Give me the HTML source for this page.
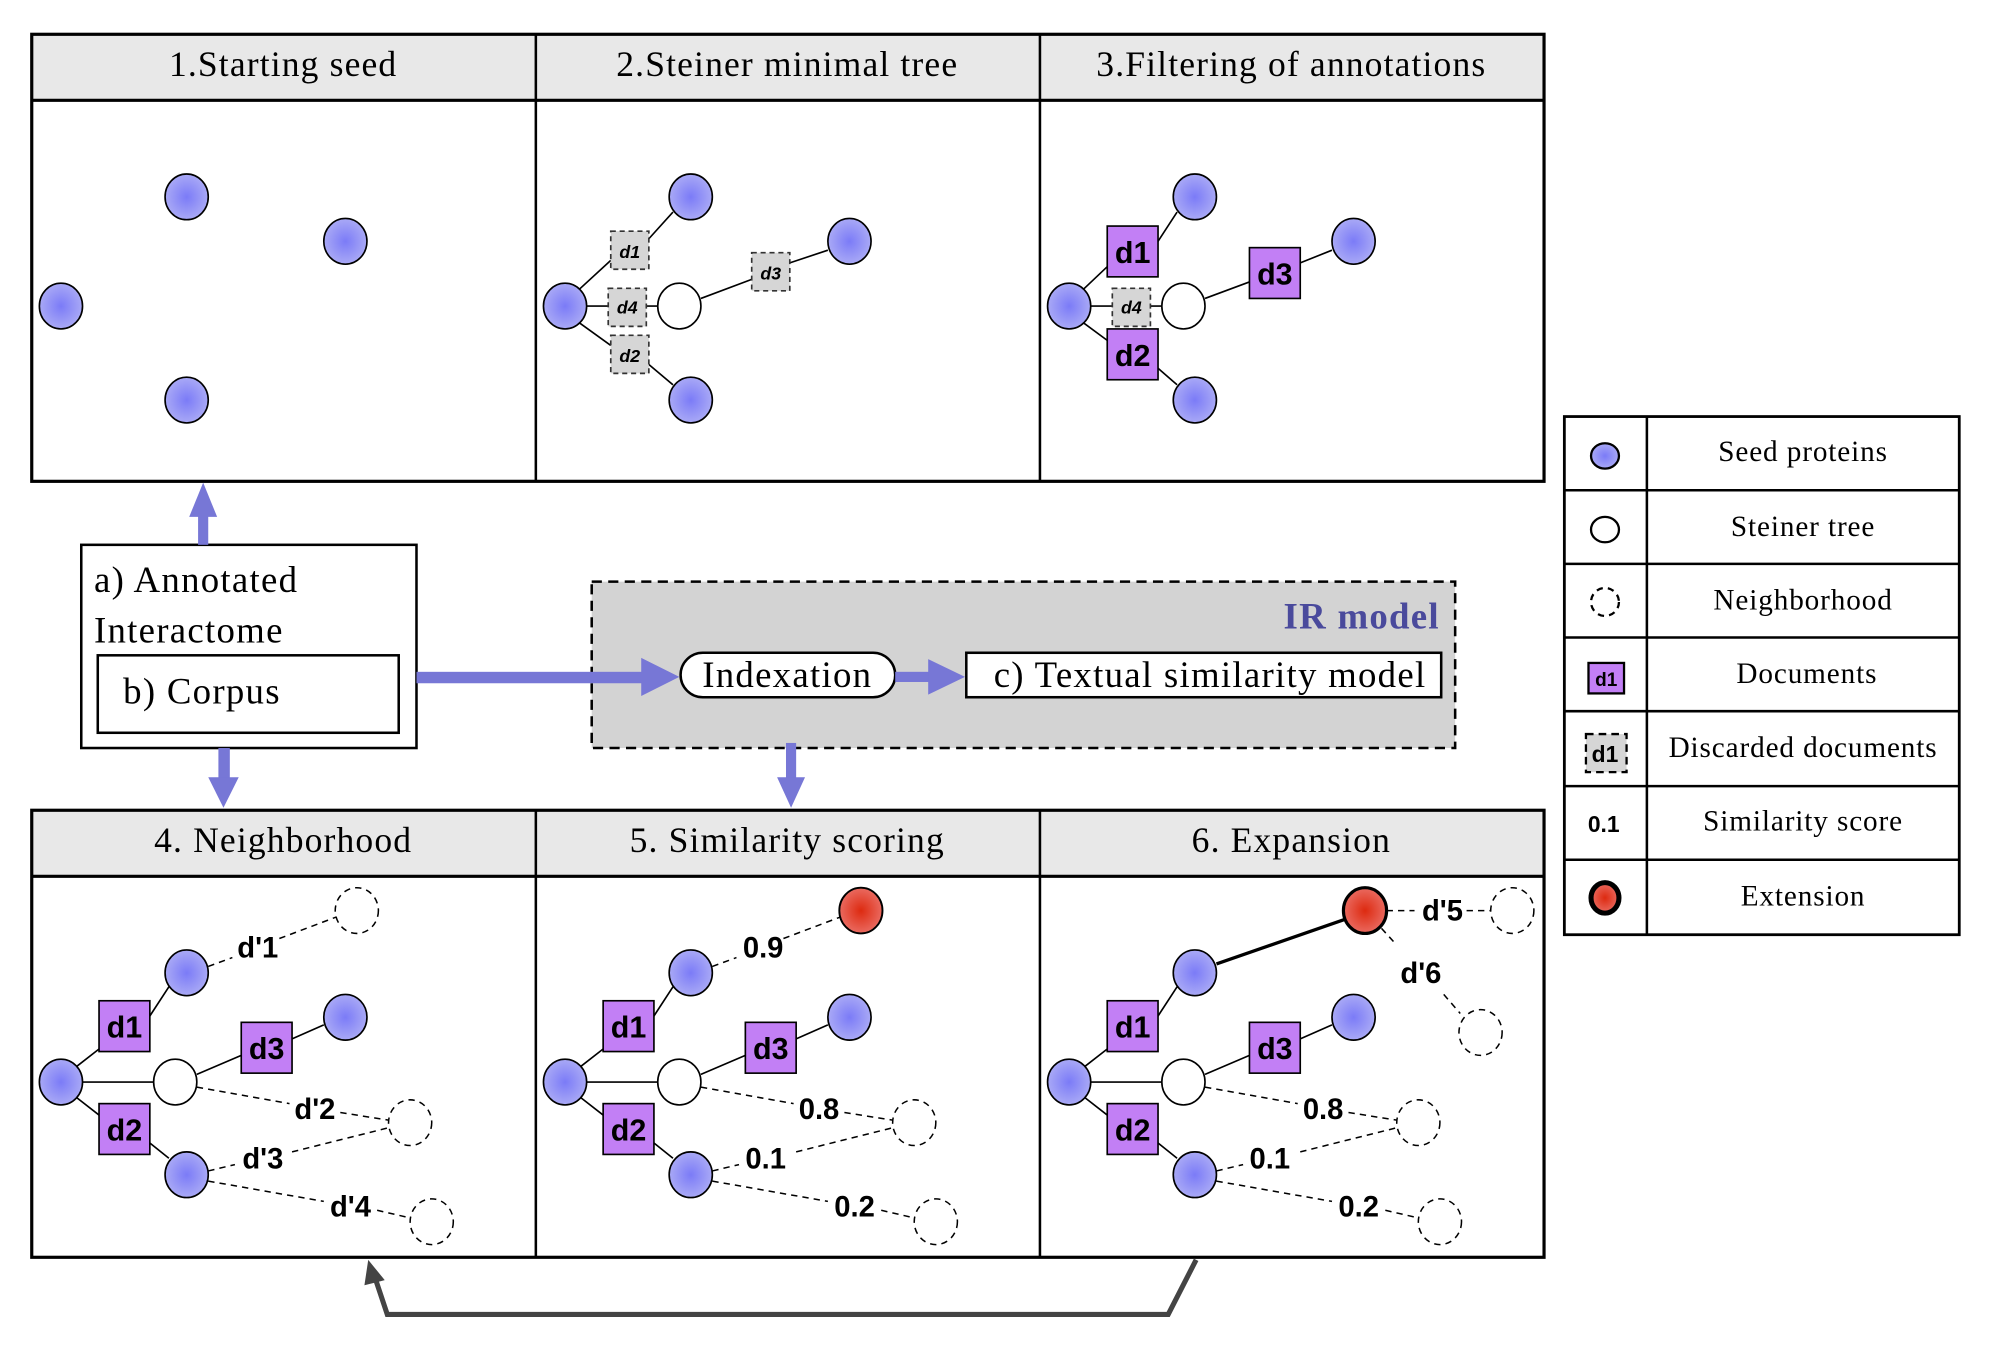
<!DOCTYPE html>
<html><head><meta charset="utf-8"><style>
html,body{margin:0;padding:0;background:#fff;}
svg{display:block;}
.h{font-family:"Liberation Serif",serif;font-size:28px;letter-spacing:0.9px;text-anchor:middle;fill:#000;}
.m{font-family:"Liberation Serif",serif;font-size:29px;letter-spacing:1px;fill:#000;}
.lg{font-family:"Liberation Serif",serif;font-size:23px;letter-spacing:0.7px;text-anchor:middle;fill:#000;}
.b{font-family:"Liberation Sans",sans-serif;font-weight:bold;font-size:23px;text-anchor:middle;fill:#000;}
.di{font-family:"Liberation Sans",sans-serif;font-weight:bold;font-style:italic;font-size:14px;text-anchor:middle;fill:#000;}
.dp{font-family:"Liberation Sans",sans-serif;font-weight:bold;font-size:24px;text-anchor:middle;fill:#000;}
.s{stroke:#000;stroke-width:1.3;fill:none;}
.d{stroke:#000;stroke-width:1.2;fill:none;stroke-dasharray:5 4;}
.bl{fill:url(#gb);stroke:#000;stroke-width:1.3;}
.wh{fill:#fff;stroke:#000;stroke-width:1.3;}
.nb{fill:none;stroke:#000;stroke-width:1.2;stroke-dasharray:5 4;}
.pu{fill:#c27ff5;stroke:#000;stroke-width:1.3;}
.gr{fill:#d6d6d6;stroke:#333;stroke-width:1.3;stroke-dasharray:4 3;}
</style></head><body>
<svg width="1991" height="1350" viewBox="0 0 1568 1063" preserveAspectRatio="none" xmlns="http://www.w3.org/2000/svg">
<defs>
<radialGradient id="gb"><stop offset="0" stop-color="#7b7bf7"/><stop offset="1" stop-color="#a9a9f6"/></radialGradient>
<radialGradient id="gr"><stop offset="0" stop-color="#dd2a10"/><stop offset="1" stop-color="#ea6a60"/></radialGradient>
</defs>
<!-- top panels -->
<rect x="25" y="27" width="1191" height="52" fill="#e8e8e8"/>
<rect x="25" y="27" width="1191" height="352" fill="none" stroke="#000" stroke-width="2.5"/>
<line x1="25" y1="79" x2="1216" y2="79" stroke="#000" stroke-width="2.5"/>
<line x1="422" y1="27" x2="422" y2="379" stroke="#000" stroke-width="2"/>
<line x1="819" y1="27" x2="819" y2="379" stroke="#000" stroke-width="2"/>
<text class="h" x="223" y="60">1.Starting seed</text>
<text class="h" x="620" y="60">2.Steiner minimal tree</text>
<text class="h" x="1017" y="60">3.Filtering of annotations</text>
<!-- panel 1 -->
<ellipse class="bl" cx="147" cy="155" rx="17" ry="18"/>
<ellipse class="bl" cx="272" cy="190" rx="17" ry="18"/>
<ellipse class="bl" cx="48" cy="241" rx="17" ry="18"/>
<ellipse class="bl" cx="147" cy="315" rx="17" ry="18"/>
<!-- panel 2 -->
<path class="s" d="M456 228L481 205M511 188L530 167M462 241H479M509 241H518M456 254L481 272M511 287L530 303M552 235L592 220M622 207L652 197"/>
<ellipse class="bl" cx="544" cy="155" rx="17" ry="18"/>
<ellipse class="bl" cx="669" cy="190" rx="17" ry="18"/>
<ellipse class="bl" cx="445" cy="241" rx="17" ry="18"/>
<ellipse class="bl" cx="544" cy="315" rx="17" ry="18"/>
<ellipse class="wh" cx="535" cy="241" rx="17" ry="18"/>
<rect class="gr" x="481" y="182" width="30" height="30"/><text class="di" x="496" y="203">d1</text>
<rect class="gr" x="479" y="227" width="30" height="30"/><text class="di" x="494" y="247">d4</text>
<rect class="gr" x="481" y="264" width="30" height="30"/><text class="di" x="496" y="285">d2</text>
<rect class="gr" x="592" y="199" width="30" height="30"/><text class="di" x="607" y="220">d3</text>
<!-- panel 3 -->
<path class="s" d="M853 228L872 210M912 190L927 167M859 241H876M906 241H915M853 254L872 268M912 290L927 303M949 235L984 222M1024 207L1049 197"/>
<ellipse class="bl" cx="941" cy="155" rx="17" ry="18"/>
<ellipse class="bl" cx="1066" cy="190" rx="17" ry="18"/>
<ellipse class="bl" cx="842" cy="241" rx="17" ry="18"/>
<ellipse class="bl" cx="941" cy="315" rx="17" ry="18"/>
<ellipse class="wh" cx="932" cy="241" rx="17" ry="18"/>
<rect class="gr" x="876" y="227" width="30" height="30"/><text class="di" x="891" y="247">d4</text>
<rect class="pu" x="872" y="178" width="40" height="40"/><text class="dp" x="892" y="207">d1</text>
<rect class="pu" x="872" y="259" width="40" height="40"/><text class="dp" x="892" y="288">d2</text>
<rect class="pu" x="984" y="195" width="40" height="40"/><text class="dp" x="1004" y="224">d3</text>
<!-- middle -->
<rect x="64" y="429" width="264" height="160" fill="#fff" stroke="#000" stroke-width="2"/>
<text class="m" x="74" y="466">a) Annotated</text>
<text class="m" x="74" y="506">Interactome</text>
<rect x="77" y="516" width="237" height="61" fill="#fff" stroke="#000" stroke-width="2"/>
<text class="m" x="97" y="554">b) Corpus</text>
<rect x="466" y="458" width="680" height="131" fill="#d3d3d3" stroke="#000" stroke-width="2" stroke-dasharray="8 5"/>
<text x="1134" y="495" style="font-family:'Liberation Serif',serif;font-weight:bold;font-size:29px;letter-spacing:1px;fill:#4a4a9c;text-anchor:end">IR model</text>
<rect x="536" y="514" width="169" height="35" rx="17.5" fill="#fff" stroke="#000" stroke-width="2"/>
<text class="m" x="620" y="541" style="text-anchor:middle">Indexation</text>
<rect x="761" y="514" width="374" height="35" fill="#fff" stroke="#000" stroke-width="2"/>
<text class="m" x="953" y="541" style="text-anchor:middle">c) Textual similarity model</text>
<!-- blue arrows -->
<g fill="#7777d6">
<rect x="156" y="405" width="8" height="24"/><polygon points="160,380 149,407 171,407"/>
<rect x="328" y="529" width="180" height="9"/><polygon points="535,533 505,518 505,548"/>
<rect x="705" y="529" width="30" height="8"/><polygon points="760,533 731,519 731,547"/>
<rect x="172" y="589" width="9" height="25"/><polygon points="176,636 164,612 188,612"/>
<rect x="619" y="585" width="8" height="30"/><polygon points="623,636 612,612 634,612"/>
</g>
<!-- bottom panels -->
<rect x="25" y="638" width="1191" height="52" fill="#e8e8e8"/>
<rect x="25" y="638" width="1191" height="352" fill="none" stroke="#000" stroke-width="2.5"/>
<line x1="25" y1="690" x2="1216" y2="690" stroke="#000" stroke-width="2.5"/>
<line x1="422" y1="638" x2="422" y2="990" stroke="#000" stroke-width="2"/>
<line x1="819" y1="638" x2="819" y2="990" stroke="#000" stroke-width="2"/>
<text class="h" x="223" y="671">4. Neighborhood</text>
<text class="h" x="620" y="671">5. Similarity scoring</text>
<text class="h" x="1017" y="671">6. Expansion</text>
<!-- panel 4 -->
<g>
<path class="s" d="M60 840L78 826M118 800L133 777M65 852H121M60 864L78 878M118 900L133 912M155 846L190 831M230 818L255 807"/>
<path class="d" d="M164 761L183 754M220 739L265 722M155 856L228 869M268 876L306 882M164 922L185 917M230 907L306 888M164 930L255 946M297 953L323 959"/>
<ellipse class="bl" cx="48" cy="852" rx="17" ry="18"/>
<ellipse class="bl" cx="147" cy="766" rx="17" ry="18"/>
<ellipse class="bl" cx="272" cy="801" rx="17" ry="18"/>
<ellipse class="bl" cx="147" cy="925" rx="17" ry="18"/>
<ellipse class="wh" cx="138" cy="852" rx="17" ry="18"/>
<ellipse class="nb" cx="281" cy="717" rx="17" ry="18"/>
<ellipse class="nb" cx="323" cy="884" rx="17" ry="18"/>
<ellipse class="nb" cx="340" cy="962" rx="17" ry="18"/>
<rect class="pu" x="78" y="788" width="40" height="40"/><text class="dp" x="98" y="817">d1</text>
<rect class="pu" x="78" y="869" width="40" height="40"/><text class="dp" x="98" y="898">d2</text>
<rect class="pu" x="190" y="805" width="40" height="40"/><text class="dp" x="210" y="834">d3</text>
<text class="b" x="203" y="754">d'1</text>
<text class="b" x="248" y="881">d'2</text>
<text class="b" x="207" y="920">d'3</text>
<text class="b" x="276" y="958">d'4</text>
</g>
<!-- panel 5 -->
<g transform="translate(397,0)">
<path class="s" d="M60 840L78 826M118 800L133 777M65 852H121M60 864L78 878M118 900L133 912M155 846L190 831M230 818L255 807"/>
<path class="d" d="M164 761L183 754M220 739L265 722M155 856L228 869M268 876L306 882M164 922L185 917M230 907L306 888M164 930L255 946M297 953L323 959"/>
<ellipse class="bl" cx="48" cy="852" rx="17" ry="18"/>
<ellipse class="bl" cx="147" cy="766" rx="17" ry="18"/>
<ellipse class="bl" cx="272" cy="801" rx="17" ry="18"/>
<ellipse class="bl" cx="147" cy="925" rx="17" ry="18"/>
<ellipse class="wh" cx="138" cy="852" rx="17" ry="18"/>
<ellipse cx="281" cy="717" rx="17" ry="18" fill="url(#gr)" stroke="#000" stroke-width="1.5"/>
<ellipse class="nb" cx="323" cy="884" rx="17" ry="18"/>
<ellipse class="nb" cx="340" cy="962" rx="17" ry="18"/>
<rect class="pu" x="78" y="788" width="40" height="40"/><text class="dp" x="98" y="817">d1</text>
<rect class="pu" x="78" y="869" width="40" height="40"/><text class="dp" x="98" y="898">d2</text>
<rect class="pu" x="190" y="805" width="40" height="40"/><text class="dp" x="210" y="834">d3</text>
<text class="b" x="204" y="754">0.9</text>
<text class="b" x="248" y="881">0.8</text>
<text class="b" x="206" y="920">0.1</text>
<text class="b" x="276" y="958">0.2</text>
</g>
<!-- panel 6 -->
<g transform="translate(794,0)">
<path class="s" d="M60 840L78 826M118 800L133 777M65 852H121M60 864L78 878M118 900L133 912M155 846L190 831M230 818L255 807"/>
<path d="M164 759L265 724" stroke="#000" stroke-width="2.6"/>
<path class="d" d="M155 856L228 869M268 876L306 882M164 922L185 917M230 907L306 888M164 930L255 946M297 953L323 959M298 717H320M361 717H380M294 731L304 742M343 783L356 798"/>
<ellipse class="bl" cx="48" cy="852" rx="17" ry="18"/>
<ellipse class="bl" cx="147" cy="766" rx="17" ry="18"/>
<ellipse class="bl" cx="272" cy="801" rx="17" ry="18"/>
<ellipse class="bl" cx="147" cy="925" rx="17" ry="18"/>
<ellipse class="wh" cx="138" cy="852" rx="17" ry="18"/>
<ellipse cx="281" cy="717" rx="17" ry="18" fill="url(#gr)" stroke="#000" stroke-width="2.5"/>
<ellipse class="nb" cx="397" cy="717" rx="17" ry="18"/>
<ellipse class="nb" cx="372" cy="813" rx="17" ry="18"/>
<ellipse class="nb" cx="323" cy="884" rx="17" ry="18"/>
<ellipse class="nb" cx="340" cy="962" rx="17" ry="18"/>
<rect class="pu" x="78" y="788" width="40" height="40"/><text class="dp" x="98" y="817">d1</text>
<rect class="pu" x="78" y="869" width="40" height="40"/><text class="dp" x="98" y="898">d2</text>
<rect class="pu" x="190" y="805" width="40" height="40"/><text class="dp" x="210" y="834">d3</text>
<text class="b" x="342" y="725">d'5</text>
<text class="b" x="325" y="774">d'6</text>
<text class="b" x="248" y="881">0.8</text>
<text class="b" x="206" y="920">0.1</text>
<text class="b" x="276" y="958">0.2</text>
</g>
<!-- grey feedback arrow -->
<polyline points="942,992 920,1035 305,1035 296,1008" fill="none" stroke="#444" stroke-width="4"/>
<polygon points="290,992 287,1012 303,1008" fill="#444"/>
<!-- legend -->
<rect x="1232" y="328" width="311" height="408" fill="#fff" stroke="#000" stroke-width="2.2"/>
<line x1="1297" y1="328" x2="1297" y2="736" stroke="#000" stroke-width="2"/>
<g stroke="#000" stroke-width="2">
<line x1="1232" y1="386" x2="1543" y2="386"/>
<line x1="1232" y1="444" x2="1543" y2="444"/>
<line x1="1232" y1="502" x2="1543" y2="502"/>
<line x1="1232" y1="560" x2="1543" y2="560"/>
<line x1="1232" y1="619" x2="1543" y2="619"/>
<line x1="1232" y1="677" x2="1543" y2="677"/>
</g>
<ellipse cx="1264" cy="359" rx="11" ry="10" fill="url(#gb)" stroke="#000" stroke-width="1.8"/>
<ellipse cx="1264" cy="417" rx="11" ry="10" fill="#fff" stroke="#000" stroke-width="1.8"/>
<ellipse cx="1264" cy="474" rx="11" ry="11" fill="none" stroke="#000" stroke-width="1.8" stroke-dasharray="5 4"/>
<rect x="1251" y="522" width="28" height="24" fill="#c27ff5" stroke="#000" stroke-width="1.8"/>
<text x="1265" y="540" style="font-family:'Liberation Sans',sans-serif;font-weight:bold;font-size:15px;text-anchor:middle">d1</text>
<rect x="1249" y="578" width="32" height="30" fill="#d6d6d6" stroke="#000" stroke-width="1.8" stroke-dasharray="6 4"/>
<text x="1264" y="600" style="font-family:'Liberation Sans',sans-serif;font-weight:bold;font-size:18px;text-anchor:middle">d1</text>
<text x="1263" y="655" style="font-family:'Liberation Sans',sans-serif;font-weight:bold;font-size:18px;text-anchor:middle">0.1</text>
<ellipse cx="1264" cy="707" rx="11" ry="12" fill="url(#gr)" stroke="#000" stroke-width="4"/>
<text class="lg" x="1420" y="363">Seed proteins</text>
<text class="lg" x="1420" y="422">Steiner tree</text>
<text class="lg" x="1420" y="480">Neighborhood</text>
<text class="lg" x="1423" y="538">Documents</text>
<text class="lg" x="1420" y="596">Discarded documents</text>
<text class="lg" x="1420" y="654">Similarity score</text>
<text class="lg" x="1420" y="713">Extension</text>
</svg>
</body></html>
